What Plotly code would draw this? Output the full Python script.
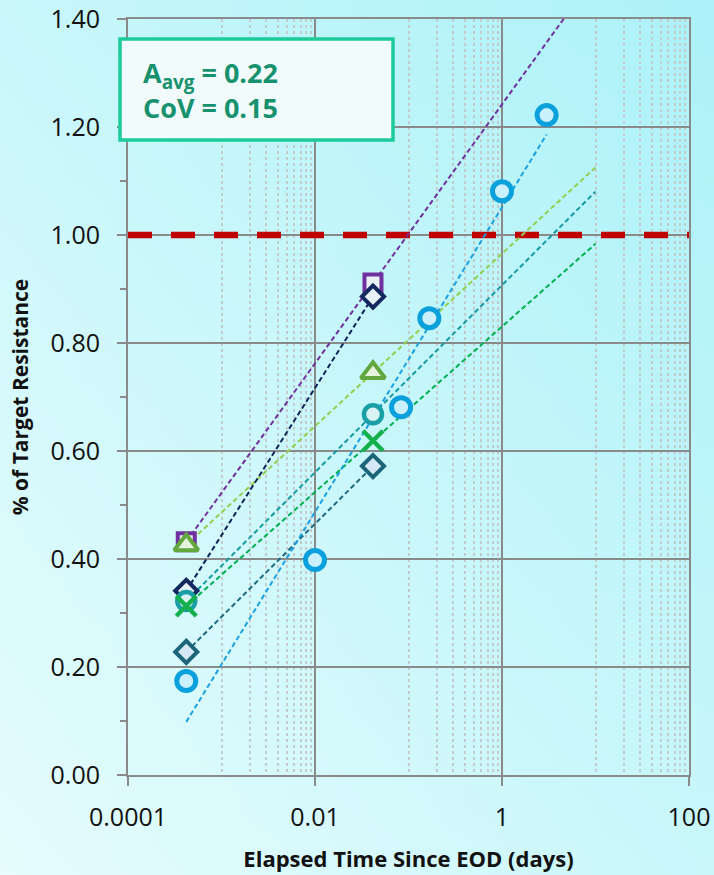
import base64
import struct
import zlib

import numpy as np
import plotly.graph_objects as go

# Elapsed time since end of driving (days) and fraction of target resistance
t_square = [0.00042, 0.0417]
r_square = [0.432, 0.911]
t_triangle = [0.00042, 0.0417]
r_triangle = [0.426, 0.745]
t_navy = [0.00042, 0.0417]
r_navy = [0.341, 0.886]
t_teal = [0.00042, 0.0417]
r_teal = [0.322, 0.668]
t_cross = [0.00042, 0.0417]
r_cross = [0.313, 0.619]
t_diamond = [0.00042, 0.0417]
r_diamond = [0.228, 0.572]
t_circle = [0.00042, 0.01, 0.0833, 0.167, 1.0, 3.0]
r_circle = [0.174, 0.398, 0.681, 0.846, 1.081, 1.222]

target_level = 1.0
a_avg = 0.22
cov = 0.15

x_tick_vals = [0.0001, 0.01, 1, 100]
x_tick_text = ["0.0001", "0.01", "1", "100"]
y_tick_vals = [0.0, 0.2, 0.4, 0.6, 0.8, 1.0, 1.2, 1.4]

# marker / trendline styling per series; trend_to is the forecast end (days)
series = [
    dict(t=t_square, r=r_square, symbol="square", size=17, width=4, color="#7030A0",
         fill="#e9f1f3", line="#7030A0", trend_to=10.0),
    dict(t=t_triangle, r=r_triangle, symbol="triangle-up", size=21, width=4, color="#62A83F",
         fill="#e4f2de", line="#92D050", trend_to=10.0),
    dict(t=t_navy, r=r_navy, symbol="diamond", size=17, width=4, color="#12285E",
         fill="#e6f2f6", line="#0B2258", trend_to=None),
    dict(t=t_teal, r=r_teal, symbol="circle", size=18, width=4.5, color="#1A9FA6",
         fill="#d9f3f5", line="#169AA2", trend_to=10.0),
    dict(t=t_cross, r=r_cross, symbol="x-thin", size=20, width=4.5, color="#14B04E",
         fill="#14B04E", line="#00B050", trend_to=10.0),
    dict(t=t_diamond, r=r_diamond, symbol="diamond", size=17, width=4, color="#1C6478",
         fill="#d6e8f6", line="#1F6A80", trend_to=None),
    dict(t=t_circle, r=r_circle, symbol="circle", size=19, width=5, color="#0AA0DC",
         fill="#c9f0fc", line="#1BA1E2", trend_to=None),
]


def gradient_png(w, h, light, dark):
    """Diagonal gradient: light in the lower-left corner, dark in the upper-right."""
    raw = bytearray()
    for j in range(h):
        raw.append(0)
        for i in range(w):
            s = (i / (w - 1) + (1 - j / (h - 1))) / 2.0
            for k in range(3):
                raw.append(int(round(light[k] * (1 - s) + dark[k] * s)))

    def chunk(tag, data):
        body = tag + data
        return struct.pack(">I", len(data)) + body + struct.pack(">I", zlib.crc32(body) & 0xFFFFFFFF)

    png = b"\x89PNG\r\n\x1a\n"
    png += chunk(b"IHDR", struct.pack(">IIBBBBB", w, h, 8, 2, 0, 0, 0))
    png += chunk(b"IDAT", zlib.compress(bytes(raw), 9))
    png += chunk(b"IEND", b"")
    return "data:image/png;base64," + base64.b64encode(png).decode()


W, H = 714, 875
ML, MR, MT, MB = 128, 25, 19, 100
PW, PH = W - ML - MR, H - MT - MB

fig = go.Figure()

# target resistance reference line
fig.add_trace(go.Scatter(
    x=[x_tick_vals[0], x_tick_vals[-1]], y=[target_level, target_level],
    mode="lines", line=dict(color="#C00000", width=6.5, dash="24px,19px"),
    hoverinfo="skip",
))

# logarithmic trendlines (least squares in log10 time)
for s in series:
    lx = np.log10(s["t"])
    slope, icpt = np.polyfit(lx, s["r"], 1)
    x_end = s["trend_to"] if s["trend_to"] else max(s["t"])
    xs = np.array([min(s["t"]), x_end])
    ys = slope * np.log10(xs) + icpt
    fig.add_trace(go.Scatter(
        x=xs, y=ys, mode="lines",
        line=dict(color=s["line"], width=2, dash="5px,3px"),
        hoverinfo="skip",
    ))

# measured points
for s in series:
    fig.add_trace(go.Scatter(
        x=s["t"], y=s["r"], mode="markers",
        marker=dict(symbol=s["symbol"], size=s["size"], color=s["fill"],
                    line=dict(color=s["color"], width=s["width"])),
    ))

minor_x = []
for base in [0.001, 0.1, 10]:
    minor_x += [base * k for k in range(1, 10)]
minor_y = [0.1, 0.3, 0.5, 0.7, 0.9, 1.1, 1.3]

axis_col = "#8a8a8a"
font_family = "'Open Sans', Lato, sans-serif"

fig.update_layout(
    width=W, height=H,
    margin=dict(l=ML, r=MR, t=MT, b=MB, autoexpand=False),
    paper_bgcolor="#d4f8fa",
    plot_bgcolor="rgba(0,0,0,0)",
    showlegend=False,
    font=dict(family=font_family, color="#111111"),
    images=[dict(
        source=gradient_png(72, 88, (230, 252, 253), (172, 242, 248)),
        xref="paper", yref="paper",
        x=-ML / PW, y=1 + MT / PH, sizex=W / PW, sizey=H / PH,
        xanchor="left", yanchor="top", sizing="stretch", layer="below",
    )],
    xaxis=dict(
        type="log", range=[-4, 2], automargin=False,
        tickvals=x_tick_vals, ticktext=x_tick_text,
        ticks="outside", ticklen=9, tickwidth=2, tickcolor=axis_col,
        tickfont=dict(size=25), ticklabelstandoff=10,
        showgrid=True, gridcolor=axis_col, gridwidth=2,
        showline=True, linecolor=axis_col, linewidth=2, mirror=True,
        zeroline=False,
        minor=dict(tickvals=minor_x, showgrid=True, gridcolor="#c2cccc",
                   griddash="dot", gridwidth=2, ticks=""),
        title=dict(text="<b>Elapsed Time Since EOD (days)</b>",
                   font=dict(size=22), standoff=20),
    ),
    yaxis=dict(
        range=[0, 1.4], tickvals=y_tick_vals, tickformat=".2f", automargin=False,
        ticks="outside", ticklen=9, tickwidth=2, tickcolor=axis_col,
        tickfont=dict(size=25), ticklabelstandoff=12,
        showgrid=True, gridcolor=axis_col, gridwidth=2,
        showline=True, linecolor=axis_col, linewidth=2, mirror=True,
        zeroline=False,
        minor=dict(tickvals=minor_y, ticks="outside", ticklen=6,
                   tickwidth=2, tickcolor=axis_col, showgrid=False),
        title=dict(text="<b>% of Target Resistance</b>",
                   font=dict(size=21), standoff=16),
    ),
)

# statistics box in the upper-left corner
box_left, box_right, box_top, box_bottom = 120, 393, 39, 140
fig.add_shape(
    type="rect", xref="paper", yref="paper", layer="above",
    x0=(box_left - ML) / PW, x1=(box_right - ML) / PW,
    y0=1 - (box_bottom - MT) / PH, y1=1 - (box_top - MT) / PH,
    fillcolor="#f2fbfb", line=dict(color="#1DCB9A", width=3.5),
)
fig.add_annotation(
    xref="paper", yref="paper",
    x=(141 - ML) / PW, y=1 - ((box_top + box_bottom) / 2 - MT) / PH,
    xanchor="left", yanchor="middle", align="left",
    text=f"<b>A<sub>avg</sub> = {a_avg:.2f}<br>CoV = {cov:.2f}</b>",
    font=dict(size=27, color="#18926E", family=font_family),
    showarrow=False,
)

fig.write_html("out.html")
